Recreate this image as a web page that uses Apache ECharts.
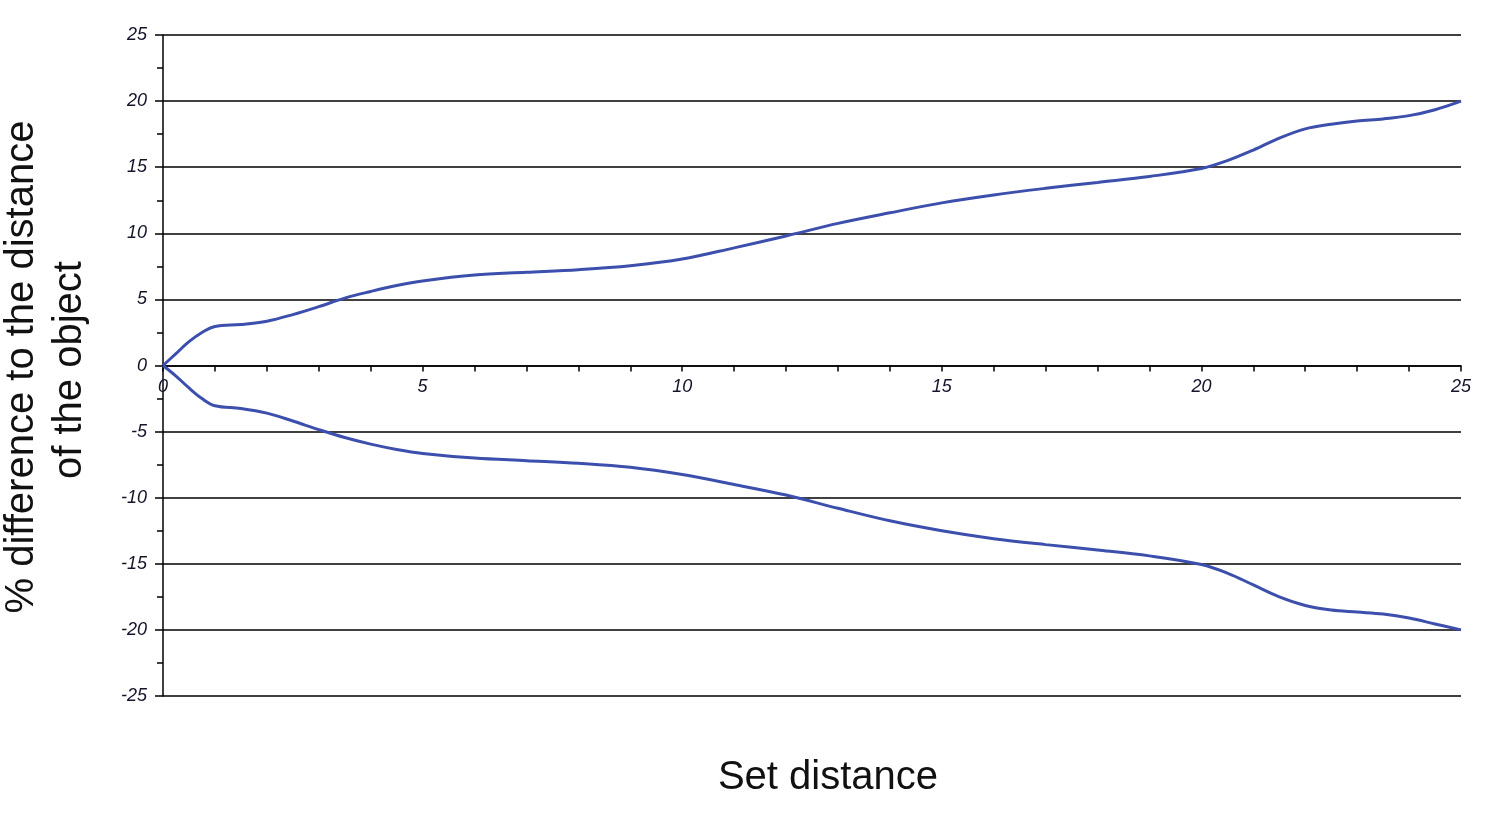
<!DOCTYPE html>
<html>
<head>
<meta charset="utf-8">
<script src="https://cdn.jsdelivr.net/npm/echarts@6/dist/echarts.min.js"></script>
<style>
html,body{margin:0;padding:0;background:#fff;}
#chart{width:1500px;height:821px;}
</style>
</head>
<body>
<div id="chart"></div>
<script>
const setDistance = [0, 0.25, 0.5, 0.75, 1, 1.5, 2, 2.5, 3, 3.5, 4, 4.5, 5, 6, 7, 8, 9, 10, 11, 12, 13, 14, 15, 16, 17, 18, 19, 20, 20.5, 21, 21.5, 22, 22.5, 23, 23.5, 24, 24.5, 25];
const upperDiff = [0, 0.9, 1.8, 2.5, 2.95, 3.1, 3.35, 3.85, 4.45, 5.1, 5.6, 6.05, 6.4, 6.85, 7.05, 7.25, 7.55, 8.05, 8.9, 9.8, 10.75, 11.55, 12.3, 12.9, 13.4, 13.85, 14.3, 14.9, 15.5, 16.3, 17.2, 17.9, 18.25, 18.5, 18.65, 18.9, 19.35, 20];
const lowerDiff = [0, -0.8, -1.7, -2.5, -3.05, -3.25, -3.6, -4.2, -4.85, -5.45, -5.95, -6.35, -6.65, -7.0, -7.2, -7.4, -7.7, -8.25, -9.0, -9.8, -10.8, -11.75, -12.5, -13.1, -13.55, -13.95, -14.4, -15.05, -15.7, -16.6, -17.5, -18.15, -18.5, -18.65, -18.8, -19.1, -19.55, -20];
const yTitleLines = ['% difference to the distance', 'of the object'];
const xTitle = 'Set distance';

const upperData = setDistance.map((x, i) => [x, upperDiff[i]]);
const lowerData = setDistance.map((x, i) => [x, lowerDiff[i]]);

const chart = echarts.init(document.getElementById('chart'), null, {renderer: 'canvas'});
const labelStyle = {fontFamily: 'Liberation Sans, Arial, sans-serif', fontStyle: 'italic', fontSize: 18, color: '#14142a'};
const lineColor = '#3c4fac';
const gridTop = 35, gridBottom = 125, chartH = 821;
const halfGrid = (chartH - gridTop - gridBottom) / 2;
chart.setOption({
  animation: false,
  backgroundColor: '#ffffff',
  grid: {left: 163, right: 39, top: gridTop, bottom: gridBottom, containLabel: false},
  xAxis: {
    type: 'value', min: 0, max: 25, interval: 1, position: 'bottom', offset: -halfGrid,
    axisLine: {show: true, onZero: false, lineStyle: {color: '#000', width: 1.5}},
    axisTick: {show: true, length: 6, lineStyle: {color: '#000', width: 1.5}},
    axisLabel: Object.assign({margin: 12, formatter: v => (v % 5 === 0 ? String(v) : '')}, labelStyle),
    splitLine: {show: false}
  },
  yAxis: {
    type: 'value', min: -25, max: 25, interval: 5,
    axisLine: {show: true, lineStyle: {color: '#000', width: 1.5}},
    axisTick: {show: true, length: 8, lineStyle: {color: '#000', width: 1.5}},
    minorTick: {show: true, splitNumber: 2, length: 6, lineStyle: {color: '#000', width: 1.5}},
    axisLabel: Object.assign({margin: 16}, labelStyle),
    splitLine: {show: true, lineStyle: {color: '#000', width: 1.6}}
  },
  series: [
    {type: 'line', data: upperData, smooth: 0.35, showSymbol: false, lineStyle: {color: lineColor, width: 3}},
    {type: 'line', data: lowerData, smooth: 0.35, showSymbol: false, lineStyle: {color: lineColor, width: 3}}
  ],
  graphic: [
    {type: 'text', x: 22, y: 367, rotation: Math.PI / 2, style: {text: yTitleLines[0], font: '40px "Liberation Sans", Arial, sans-serif', fill: '#111', textAlign: 'center', textVerticalAlign: 'middle'}},
    {type: 'text', x: 70, y: 370, rotation: Math.PI / 2, style: {text: yTitleLines[1], font: '40px "Liberation Sans", Arial, sans-serif', fill: '#111', textAlign: 'center', textVerticalAlign: 'middle'}},
    {type: 'text', x: 828, y: 778, style: {text: xTitle, font: '40px "Liberation Sans", Arial, sans-serif', fill: '#111', textAlign: 'center', textVerticalAlign: 'middle'}}
  ]
});
</script>
</body>
</html>
